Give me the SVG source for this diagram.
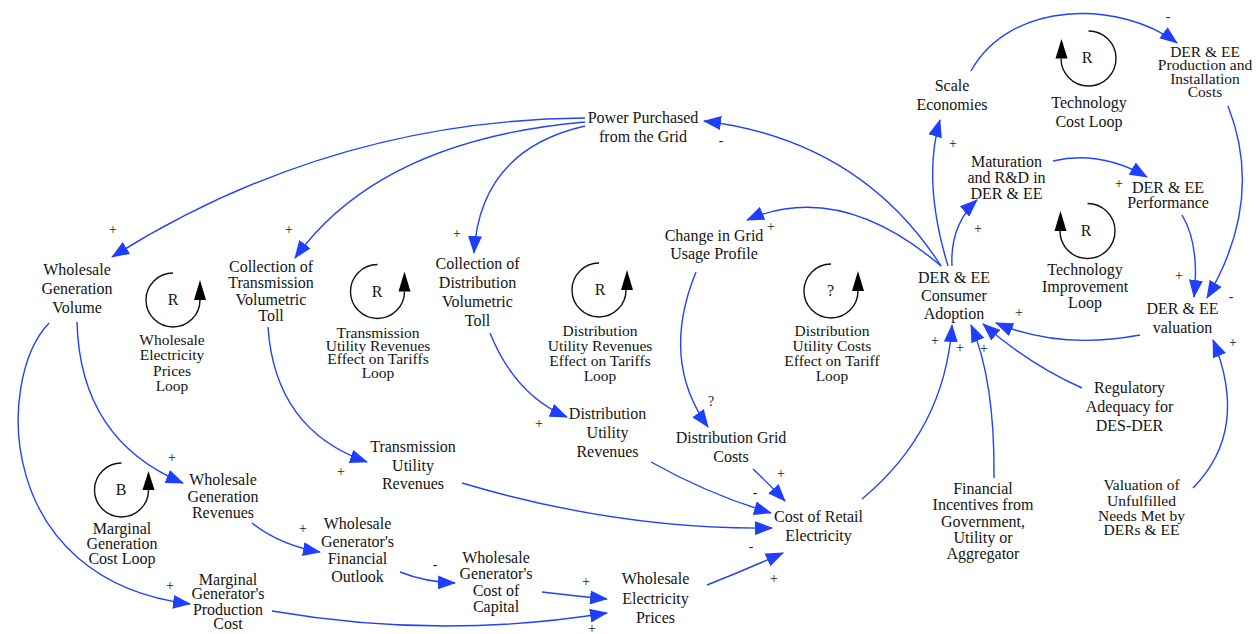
<svg xmlns="http://www.w3.org/2000/svg" width="1259" height="634" viewBox="0 0 1259 634">
<defs>
<style>
.t{font-family:"Liberation Serif","Times New Roman",serif;font-size:16px;fill:#141414;text-anchor:middle}
.s{font-size:15.5px}
.p{font-family:"Liberation Serif","Times New Roman",serif;font-size:14px;fill:#222;text-anchor:middle}
.lnk{fill:none;stroke:#2242ff;stroke-width:1.4;marker-end:url(#ah)}
.lp{fill:none;stroke:#111;stroke-width:1.4}
.la{fill:#000}
</style>
<marker id="ah" viewBox="0 0 18 14" refX="17" refY="7" markerWidth="18" markerHeight="14" markerUnits="userSpaceOnUse" orient="auto">
<path d="M0,0 L18,7 L0,14 z" fill="#1f3fff"/>
</marker>
</defs>
<rect width="1259" height="634" fill="#fff"/>

<g id="connectors">
<path class="lnk" d="M585,118 Q330,120 112,257"/>
<path class="lnk" d="M585,122 Q380,140 295,258"/>
<path class="lnk" d="M585,126 Q480,150 474,253"/>
<path class="lnk" d="M941,266 Q860,140 704,121"/>
<path class="lnk" d="M941,266 Q840,180 747,220"/>
<path class="lnk" d="M948,266 Q922,180 940,120"/>
<path class="lnk" d="M952,266 Q950,225 977,200"/>
<path class="lnk" d="M1053,161 Q1100,150 1147,177"/>
<path class="lnk" d="M1182,215 Q1200,245 1194,297"/>
<path class="lnk" d="M1228,106 Q1265,200 1207,298"/>
<path class="lnk" d="M971,71 C1010,0 1120,0 1177,43"/>
<path class="lnk" d="M1140,335 Q1060,350 996,323"/>
<path class="lnk" d="M1082,388 Q1030,365 983,324"/>
<path class="lnk" d="M994,478 Q995,380 971,325"/>
<path class="lnk" d="M1193,488 Q1250,430 1213,340"/>
<path class="lnk" d="M862,499 Q945,430 952,325"/>
<path class="lnk" d="M696,272 Q660,360 708,427"/>
<path class="lnk" d="M490,333 Q515,395 567,417"/>
<path class="lnk" d="M268,327 Q275,430 367,462"/>
<path class="lnk" d="M77,322 Q80,440 183,483"/>
<path class="lnk" d="M49,323 C-5,380 -5,580 190,604"/>
<path class="lnk" d="M252,523 Q280,545 320,552"/>
<path class="lnk" d="M400,572 Q425,582 455,583"/>
<path class="lnk" d="M542,592 Q575,596 607,599"/>
<path class="lnk" d="M272,611 Q440,640 607,613"/>
<path class="lnk" d="M707,585 Q745,570 783,553"/>
<path class="lnk" d="M462,483 Q620,530 772,528"/>
<path class="lnk" d="M651,462 Q710,495 771,513"/>
<path class="lnk" d="M753,469 Q770,485 785,501"/>
</g>

<g id="polarities">
<text class="p" x="113" y="234">+</text>
<text class="p" x="289" y="234">+</text>
<text class="p" x="457" y="238">+</text>
<text class="p" x="721" y="145">-</text>
<text class="p" x="771" y="231">+</text>
<text class="p" x="953" y="148">+</text>
<text class="p" x="978" y="233">+</text>
<text class="p" x="1119" y="188">+</text>
<text class="p" x="1179" y="280">+</text>
<text class="p" x="1231" y="301">-</text>
<text class="p" x="1168" y="21">-</text>
<text class="p" x="1019" y="317">+</text>
<text class="p" x="984" y="353">+</text>
<text class="p" x="960" y="352">+</text>
<text class="p" x="1233" y="347">+</text>
<text class="p" x="935" y="345">+</text>
<text class="p" x="711" y="406">?</text>
<text class="p" x="539" y="428">+</text>
<text class="p" x="341" y="476">+</text>
<text class="p" x="172" y="462">+</text>
<text class="p" x="170" y="590">+</text>
<text class="p" x="303" y="533">+</text>
<text class="p" x="435" y="569">-</text>
<text class="p" x="586" y="586">+</text>
<text class="p" x="592" y="633">+</text>
<text class="p" x="774" y="583">+</text>
<text class="p" x="751" y="551">-</text>
<text class="p" x="755" y="497">-</text>
<text class="p" x="781" y="478">+</text>
</g>

<g id="power-purchased"><text class="t"><tspan x="643" y="123">Power Purchased</tspan><tspan x="643" y="141.5">from the Grid</tspan></text></g>
<g id="wholesale-generation-volume"><text class="t"><tspan x="77" y="275">Wholesale</tspan><tspan x="77" y="294">Generation</tspan><tspan x="77" y="313">Volume</tspan></text></g>
<g id="collection-transmission"><text class="t"><tspan x="271" y="272">Collection of</tspan><tspan x="271" y="288">Transmission</tspan><tspan x="271" y="304.5">Volumetric</tspan><tspan x="271" y="321">Toll</tspan></text></g>
<g id="collection-distribution"><text class="t"><tspan x="477.5" y="269">Collection of</tspan><tspan x="477.5" y="288">Distribution</tspan><tspan x="477.5" y="307">Volumetric</tspan><tspan x="477.5" y="325.7">Toll</tspan></text></g>
<g id="change-grid-usage"><text class="t"><tspan x="714" y="240.7">Change in Grid</tspan><tspan x="714" y="259.3">Usage Profile</tspan></text></g>
<g id="transmission-utility-revenues"><text class="t"><tspan x="413" y="451.7">Transmission</tspan><tspan x="413" y="470.7">Utility</tspan><tspan x="413" y="489.3">Revenues</tspan></text></g>
<g id="distribution-utility-revenues"><text class="t"><tspan x="607.5" y="419">Distribution</tspan><tspan x="607.5" y="437.7">Utility</tspan><tspan x="607.5" y="456.7">Revenues</tspan></text></g>
<g id="distribution-grid-costs"><text class="t"><tspan x="731" y="443.3">Distribution Grid</tspan><tspan x="731" y="462.3">Costs</tspan></text></g>
<g id="cost-retail-electricity"><text class="t"><tspan x="818.5" y="521.7">Cost of Retail</tspan><tspan x="818.5" y="541">Electricity</tspan></text></g>
<g id="wholesale-generation-revenues"><text class="t"><tspan x="223" y="485">Wholesale</tspan><tspan x="223" y="502.3">Generation</tspan><tspan x="223" y="518.3">Revenues</tspan></text></g>
<g id="financial-outlook"><text class="t"><tspan x="357.5" y="529">Wholesale</tspan><tspan x="357.5" y="546.7">Generator's</tspan><tspan x="357.5" y="564.3">Financial</tspan><tspan x="357.5" y="581.7">Outlook</tspan></text></g>
<g id="marginal-production-cost"><text class="t"><tspan x="228" y="585">Marginal</tspan><tspan x="228" y="599.3">Generator's</tspan><tspan x="228" y="615">Production</tspan><tspan x="228" y="629">Cost</tspan></text></g>
<g id="cost-of-capital"><text class="t"><tspan x="496" y="562.7">Wholesale</tspan><tspan x="496" y="579">Generator's</tspan><tspan x="496" y="595.7">Cost of</tspan><tspan x="496" y="612.3">Capital</tspan></text></g>
<g id="wholesale-electricity-prices"><text class="t"><tspan x="655.5" y="584.3">Wholesale</tspan><tspan x="655.5" y="604">Electricity</tspan><tspan x="655.5" y="622.7">Prices</tspan></text></g>
<g id="consumer-adoption"><text class="t"><tspan x="954" y="283.3">DER &amp; EE</tspan><tspan x="954" y="301">Consumer</tspan><tspan x="954" y="319">Adoption</tspan></text></g>
<g id="der-valuation"><text class="t"><tspan x="1182.5" y="314">DER &amp; EE</tspan><tspan x="1182.5" y="333">valuation</tspan></text></g>
<g id="regulatory-adequacy"><text class="t"><tspan x="1129.5" y="393.3">Regulatory</tspan><tspan x="1129.5" y="412.3">Adequacy for</tspan><tspan x="1129.5" y="431">DES-DER</tspan></text></g>
<g id="financial-incentives"><text class="t"><tspan x="983" y="494">Financial</tspan><tspan x="983" y="510">Incentives from</tspan><tspan x="983" y="526.7">Government,</tspan><tspan x="983" y="542.7">Utility or</tspan><tspan x="983" y="559">Aggregator</tspan></text></g>
<g id="valuation-unfulfilled"><text class="t s"><tspan x="1141.5" y="490">Valuation of</tspan><tspan x="1141.5" y="505.7">Unfulfilled</tspan><tspan x="1141.5" y="521">Needs Met by</tspan><tspan x="1141.5" y="535">DERs &amp; EE</tspan></text></g>
<g id="scale-economies"><text class="t"><tspan x="952" y="90.7">Scale</tspan><tspan x="952" y="109.7">Economies</tspan></text></g>
<g id="maturation-rd"><text class="t"><tspan x="1006.5" y="167">Maturation</tspan><tspan x="1006.5" y="183.3">and R&amp;D in</tspan><tspan x="1006.5" y="199">DER &amp; EE</tspan></text></g>
<g id="der-performance"><text class="t"><tspan x="1168" y="192.7">DER &amp; EE</tspan><tspan x="1168" y="207.7">Performance</tspan></text></g>
<g id="der-production-costs"><text class="t s"><tspan x="1205" y="56.7">DER &amp; EE</tspan><tspan x="1205" y="70.3">Production and</tspan><tspan x="1205" y="83.7">Installation</tspan><tspan x="1205" y="96.7">Costs</tspan></text></g>

<g id="loop-wholesale-prices">
<path class="lp" d="M173,273 A27,27 0 1 0 200,300"/>
<polygon class="la" points="200,280 194,300 206,300"/>
<text class="t" x="173" y="305">R</text>
<text class="t s"><tspan x="172" y="345">Wholesale</tspan><tspan x="172" y="360">Electricity</tspan><tspan x="172" y="375.7">Prices</tspan><tspan x="172" y="391">Loop</tspan></text>
</g>
<g id="loop-transmission">
<path class="lp" d="M377.5,264.5 A27,27 0 1 0 404.5,291.5"/>
<polygon class="la" points="404.5,271.5 398.5,291.5 410.5,291.5"/>
<text class="t" x="377" y="297">R</text>
<text class="t s"><tspan x="378" y="337.7">Transmission</tspan><tspan x="378" y="351">Utility Revenues</tspan><tspan x="378" y="364">Effect on Tariffs</tspan><tspan x="378" y="378">Loop</tspan></text>
</g>
<g id="loop-distribution-revenues">
<path class="lp" d="M599,263 A27,27 0 1 0 626,290"/>
<polygon class="la" points="627,270 621,290 633,290"/>
<text class="t" x="600" y="295">R</text>
<text class="t s"><tspan x="600" y="336">Distribution</tspan><tspan x="600" y="351">Utility Revenues</tspan><tspan x="600" y="365.7">Effect on Tariffs</tspan><tspan x="600" y="380.7">Loop</tspan></text>
</g>
<g id="loop-distribution-costs">
<path class="lp" d="M831,264 A27,27 0 1 0 858,291"/>
<polygon class="la" points="858,271 852,291 864,291"/>
<text class="t" x="830.5" y="296">?</text>
<text class="t s"><tspan x="832" y="336">Distribution</tspan><tspan x="832" y="351">Utility Costs</tspan><tspan x="832" y="365.7">Effect on Tariff</tspan><tspan x="832" y="381">Loop</tspan></text>
</g>
<g id="loop-technology-cost">
<path class="lp" d="M1088.5,31 A27.5,27.5 0 1 1 1061,58.5"/>
<polygon class="la" points="1061.5,39 1055.5,58.5 1067.5,58.5"/>
<text class="t" x="1087" y="63">R</text>
<text class="t"><tspan x="1089" y="108">Technology</tspan><tspan x="1089" y="126.7">Cost Loop</tspan></text>
</g>
<g id="loop-technology-improvement">
<path class="lp" d="M1087.5,203.5 A27.5,27.5 0 1 1 1060,231"/>
<polygon class="la" points="1060.5,211 1054.5,231 1066.5,231"/>
<text class="t" x="1086" y="236">R</text>
<text class="t"><tspan x="1085" y="275">Technology</tspan><tspan x="1085" y="291.7">Improvement</tspan><tspan x="1085" y="308.3">Loop</tspan></text>
</g>
<g id="loop-marginal-cost">
<path class="lp" d="M121.5,463 A27,27 0 1 0 148.5,490"/>
<polygon class="la" points="148.5,471 142.5,490 154.5,490"/>
<text class="t" x="121" y="495">B</text>
<text class="t"><tspan x="122" y="534">Marginal</tspan><tspan x="122" y="549.3">Generation</tspan><tspan x="122" y="564.3">Cost Loop</tspan></text>
</g>
</svg>
